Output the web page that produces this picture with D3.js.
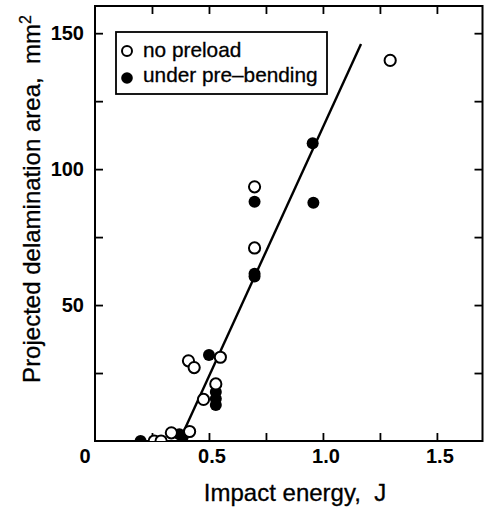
<!DOCTYPE html>
<html>
<head>
<meta charset="utf-8">
<script src="https://cdn.jsdelivr.net/npm/d3@7"></script>
<style>
  body { margin: 0; background: #fff; }
  svg { display: block; font-family: "Liberation Sans", Arial, sans-serif; }
</style>
</head>
<body>
<svg id="chart" width="488" height="511"></svg>
<script>
// data: [impact energy J, area mm2]
var noPreload = [[0.26, 0], [0.29, 0], [0.335, 3], [0.415, 3.5], [0.41, 29.5], [0.435, 27],
                 [0.476, 15.3], [0.53, 21], [0.55, 30.8], [0.70, 71], [0.70, 93.5], [1.295, 140]];
var underPreBending = [[0.20, 0], [0.37, 2.5], [0.385, 1.5], [0.50, 31.6], [0.53, 18], [0.53, 15.5],
                       [0.53, 13.2], [0.70, 88], [0.70, 60.5], [0.70, 61.5], [0.955, 109.5], [0.958, 87.6]];
var fitLine = [[0.37, 0], [1.167, 146]];
var xTickValues = [0.25, 0.5, 0.75, 1.0, 1.25, 1.5];
var xTickLabels = ["", "0.5", "", "1.0", "", "1.5"];
var yTickValues = [25, 50, 75, 100, 125, 150];
var yTickLabels = ["", "50", "", "100", "", "150"];
var legendLabels = ["no preload", "under pre\u2013bending"];

var svg = d3.select("#chart");
//plot frame edges (avoid the name "top", it is window.top)
var pLeft = 95, pRight = 482.5, pTop = 6, pBottom = 441;

var x = d3.scaleLinear().domain([0, 1.7]).range([pLeft, pRight]);
var y = d3.scaleLinear().domain([0, 160]).range([pBottom, pTop]);

//clip so points on the axis are cut
svg.append("clipPath").attr("id", "plotClip")
   .append("rect")
   .attr("x", pLeft).attr("y", pTop)
   .attr("width", pRight - pLeft).attr("height", pBottom - pTop);

//inward ticks on all four sides
var tickLen = 8;
svg.append("g").attr("transform", "translate(0," + pBottom + ")")
   .call(d3.axisBottom(x).tickValues(xTickValues).tickSizeInner(-tickLen).tickSizeOuter(0).tickFormat(""));
svg.append("g").attr("transform", "translate(0," + pTop + ")")
   .call(d3.axisTop(x).tickValues(xTickValues).tickSizeInner(-tickLen).tickSizeOuter(0).tickFormat(""));
svg.append("g").attr("transform", "translate(" + pLeft + ",0)")
   .call(d3.axisLeft(y).tickValues(yTickValues).tickSizeInner(-tickLen).tickSizeOuter(0).tickFormat(""));
svg.append("g").attr("transform", "translate(" + pRight + ",0)")
   .call(d3.axisRight(y).tickValues(yTickValues).tickSizeInner(-tickLen).tickSizeOuter(0).tickFormat(""));
svg.selectAll(".domain").remove();
svg.selectAll(".tick line").attr("stroke", "#000").attr("stroke-width", 1.8);

//frame
svg.append("rect")
   .attr("x", pLeft).attr("y", pTop)
   .attr("width", pRight - pLeft).attr("height", pBottom - pTop)
   .attr("fill", "none").attr("stroke", "#000").attr("stroke-width", 2);

//tick labels
svg.append("g").selectAll("text")
   .data(xTickValues.filter(function(d, i) { return xTickLabels[i] != ""; }))
   .join("text")
   .attr("x", function(d) { return x(d) + 3; })
   .attr("y", 463)
   .attr("text-anchor", "middle")
   .attr("font-size", 20).attr("font-weight", "bold")
   .text(function(d) { return xTickLabels[xTickValues.indexOf(d)]; });
svg.append("text")
   .attr("x", 85).attr("y", 463)
   .attr("text-anchor", "middle")
   .attr("font-size", 20).attr("font-weight", "bold")
   .text("0");
svg.append("g").selectAll("text")
   .data(yTickValues.filter(function(d, i) { return yTickLabels[i] != ""; }))
   .join("text")
   .attr("x", 84)
   .attr("y", function(d) { return y(d) + 7; })
   .attr("text-anchor", "end")
   .attr("font-size", 20).attr("font-weight", "bold")
   .text(function(d) { return yTickLabels[yTickValues.indexOf(d)]; });

//axis titles (thin stroke to match the heavy scan)
svg.append("text")
   .attr("x", 295).attr("y", 501)
   .attr("text-anchor", "middle")
   .attr("font-size", 24)
   .attr("stroke", "#000").attr("stroke-width", 0.3)
   .attr("xml:space", "preserve")
   .text("Impact energy,  J");
var yTitle = svg.append("text")
   .attr("transform", "translate(40,199) rotate(-90)")
   .attr("text-anchor", "middle")
   .attr("font-size", 24)
   .attr("stroke", "#000").attr("stroke-width", 0.3)
   .attr("xml:space", "preserve");
yTitle.append("tspan").text("Projected delamination area,  mm");
yTitle.append("tspan").attr("font-size", 16).attr("dy", -9).text("2");

var plot = svg.append("g").attr("clip-path", "url(#plotClip)");

//fitted line
plot.append("path")
    .datum(fitLine)
    .attr("d", d3.line().x(function(d) { return x(d[0]); }).y(function(d) { return y(d[1]); }))
    .attr("fill", "none").attr("stroke", "#000").attr("stroke-width", 2.4);

//points
plot.append("g").selectAll("circle")
    .data(underPreBending)
    .join("circle")
    .attr("cx", function(d) { return x(d[0]); })
    .attr("cy", function(d) { return y(d[1]); })
    .attr("r", 6)
    .attr("fill", "#000");
plot.append("g").selectAll("circle")
    .data(noPreload)
    .join("circle")
    .attr("cx", function(d) { return x(d[0]); })
    .attr("cy", function(d) { return y(d[1]); })
    .attr("r", 5.6)
    .attr("fill", "#fff").attr("stroke", "#000").attr("stroke-width", 2);

//legend
var legend = svg.append("g");
legend.append("rect")
      .attr("x", 116).attr("y", 32)
      .attr("width", 211).attr("height", 62)
      .attr("fill", "#fff").attr("stroke", "#000").attr("stroke-width", 1.8);
legend.append("circle").attr("cx", 127).attr("cy", 51).attr("r", 5)
      .attr("fill", "#fff").attr("stroke", "#000").attr("stroke-width", 2);
legend.append("circle").attr("cx", 127).attr("cy", 78).attr("r", 5.8)
      .attr("fill", "#000");
legend.selectAll("text")
      .data(legendLabels)
      .join("text")
      .attr("x", 143)
      .attr("y", function(d, i) { return 57 + i * 25; })
      .attr("font-size", 20.8)
      .attr("stroke", "#000").attr("stroke-width", 0.3)
      .text(function(d) { return d; });
</script>
</body>
</html>
